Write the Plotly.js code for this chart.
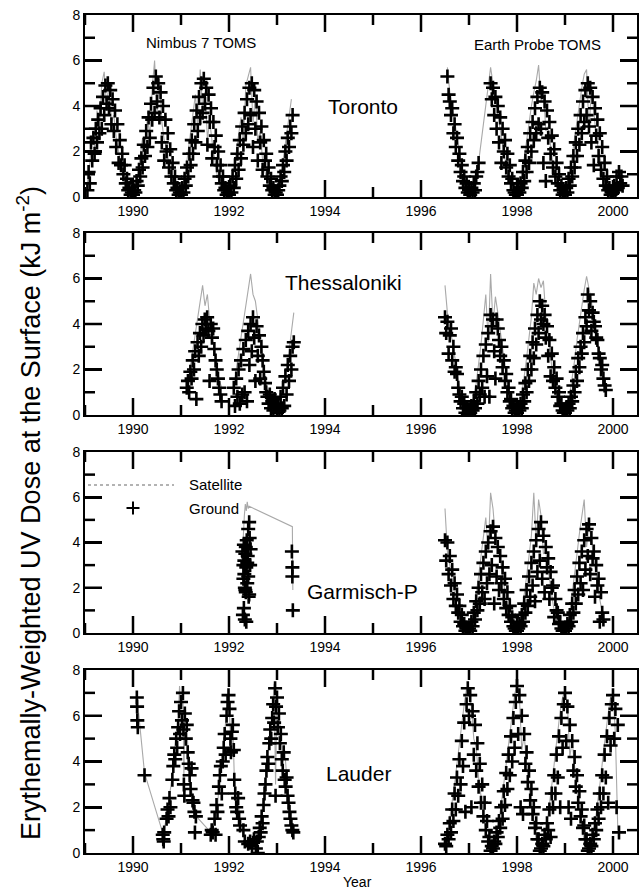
<!DOCTYPE html>
<html><head><meta charset="utf-8">
<script src="https://cdn.plot.ly/plotly-3.0.1.min.js"></script>
<style>html,body{margin:0;padding:0;background:#fff;}#chart{width:644px;height:892px;}</style>
</head><body><div id="chart"></div>
<script>
// ---------------- DATA (decimal years, kJ m-2) ----------------
// Toronto — ground (step 0.025 yr) and satellite (step 0.05 yr)
const torontoGroundA_start = 1989.05;
const torontoGroundA = [0.3,1.1,0.6,2.4,1.6,2.6,1.9,3.0,2.4,3.4,2.8,3.9,3.0,4.4,3.6,4.9,4.1,5.0,3.9,4.7,3.2,4.3,2.9,3.8,2.2,3.2,1.5,2.5,1.4,1.9,1.0,1.4,0.6,0.8,0.3,0.4,0.1,0.2,
 0.1,0.3,0.2,0.7,0.5,1.2,0.9,1.7,1.3,2.3,1.8,2.9,2.2,3.5,2.6,4.1,3.4,4.8,3.7,5.3,4.2,5.0,3.5,4.6,2.4,4.0,1.6,3.4,2.0,2.8,1.3,2.1,0.9,1.5,0.6,0.9,0.3,0.4,0.1,0.2,
 0.1,0.4,0.2,0.8,0.5,1.3,0.9,1.9,1.4,2.5,1.9,3.2,2.4,3.8,2.9,4.4,3.5,5.0,3.7,5.2,4.1,4.8,2.3,4.5,3.3,3.9,1.7,3.3,2.2,2.7,1.4,2.0,0.9,1.4,0.6,0.9,0.3,0.4,0.1,0.2,
 0.1,0.5,0.2,0.9,0.4,1.4,0.8,1.9,1.2,2.5,1.7,3.1,2.3,3.7,2.8,4.3,3.2,4.8,3.6,5.0,2.2,4.7,3.0,4.2,1.6,3.7,2.4,3.1,1.2,2.5,1.6,1.9,0.9,1.3,0.5,0.8,0.3,0.4,0.1,0.2,
 0.1,0.3,0.5,0.9,0.7,1.4,1.1,2.0,1.6,2.6,2.2,3.1,2.8,3.6];
const torontoGroundB1_start = 1996.55;
const torontoGroundB1 = [5.3,4.5,4.2,3.6,3.9,2.8,3.2,2.2,2.6,1.6,1.9,1.1,1.4,0.7,0.9,0.4,0.6,0.2,0.3,0.1,0.4,0.2,0.6,0.3,0.9,1.1,1.5];
const torontoGroundB2_start = 1997.45;
const torontoGroundB2 = [5.0,4.3,4.8,3.6,4.4,3.0,4.0,2.4,3.5,1.5,3.0,2.0,2.5,1.3,1.9,0.9,1.4,0.6,0.8,0.3,0.2,0.1,
 0.1,0.3,0.2,0.6,0.4,1.1,0.7,1.6,1.1,2.2,1.5,2.8,2.0,3.3,2.5,3.9,2.8,4.4,3.2,4.8,3.0,4.6,1.5,4.2,0.7,3.8,2.6,3.3,1.9,2.7,1.3,2.1,0.9,1.5,0.6,1.0,0.3,0.5,0.1,0.2,
 0.1,0.4,0.2,0.8,0.5,1.3,0.9,1.8,1.3,2.4,1.8,3.0,2.3,3.6,2.8,4.2,3.3,4.7,3.6,5.0,3.1,4.8,2.4,4.4,1.4,3.9,2.7,3.4,1.8,2.8,1.2,2.2,0.8,1.5,0.5,0.9,0.3,0.4,0.1,0.2,
 0.2,0.5,0.3,0.9,0.4,1.1,0.6,0.9,0.5];
const torontoSatA_start = 1989.05;
const torontoSatA = [0.6,1.5,2.7,2.2,3.8,3.1,5.0,5.5,4.0,5.0,3.3,3.6,2.6,2.0,1.3,0.8,0.4,0.2,0.1,
 0.2,0.5,1.0,1.8,2.6,2.3,3.5,2.7,4.8,6.0,3.6,5.2,3.3,2.5,2.2,1.4,0.9,0.5,0.2,0.1,
 0.2,0.6,1.2,2.0,2.8,3.6,4.5,2.9,5.6,3.9,4.6,2.6,3.3,2.4,1.6,1.0,0.6,0.3,0.2,0.1,
 0.2,0.6,1.2,1.9,2.7,3.5,2.4,4.9,5.3,5.7,3.2,4.5,2.5,2.9,1.6,1.1,0.6,0.3,0.2,0.1,
 0.2,0.6,1.2,2.0,2.9,3.5,4.3];
const torontoSatB1_start = 1996.55;
const torontoSatB1 = [5.7,4.6,4.0,3.4,2.6,2.0,1.3,0.8,0.4,0.2,0.1,0.3,0.7,1.5];
const torontoSatB2_start = 1997.45;
const torontoSatB2 = [5.7,5.0,4.5,3.6,3.0,2.4,1.7,1.0,0.6,0.3,0.1,
 0.2,0.5,1.0,1.7,2.5,3.2,4.0,4.6,5.1,5.8,4.2,4.8,2.9,3.1,2.2,1.4,0.9,0.5,0.2,0.1,
 0.2,0.5,1.1,1.8,2.6,3.4,4.1,4.8,5.4,5.6,2.9,4.7,3.8,2.6,2.1,1.4,0.9,0.5,0.2,0.1,
 0.3,0.6,0.9,1.2,0.6];

// Thessaloniki
const thessGroundA_start = 1991.12;
const thessGroundA = [1.2,1.5,1.0,1.9,1.6,2.4,2.0,2.8,0.7,3.2,2.6,3.6,3.0,4.0,3.5,4.2,3.8,4.3,3.7,1.5,4.0,3.4,3.8,2.9,2.4,2.0,1.6,1.2,0.9,0.6];
const thessGroundB_start = 1992.1;
const thessGroundB = [1.2,0.4,1.6,0.8,2.0,0.5,2.4,0.9,2.9,1.0,3.3,0.6,3.7,2.2,4.0,2.8,4.3,3.4,1.5,3.9,2.6,3.5,1.6,3.0,2.4,1.9,1.4,1.0,0.8,0.5,0.9,0.3,0.6,0.2,0.7,0.4,0.1,0.5,0.2,0.8,0.3,1.2,0.4,1.7,0.9,2.2,1.5,2.6,2.0,3.0,3.2];
const thessGroundC_start = 1996.5;
const thessGroundC = [4.3,3.6,4.1,2.7,3.5,3.8,2.4,3.0,1.9,2.1,1.8,1.2,0.9,0.6,0.8,0.3,0.5,0.1,0.3,0.0,
 0.2,0.1,0.4,0.2,0.6,0.3,1.0,0.5,1.5,0.9,2.0,1.2,2.6,0.8,3.1,1.7,3.6,0.8,4.4,3.9,4.2,2.8,1.6,4.2,3.8,3.3,2.6,3.0,2.1,2.4,1.5,1.8,1.0,1.2,0.6,0.7,0.3,0.4,0.1,0.2,
 0.1,0.3,0.2,0.5,0.3,0.9,0.6,1.4,1.0,2.0,1.5,2.6,2.0,3.2,2.5,3.8,3.1,4.4,3.6,5.0,4.2,4.8,4.0,4.4,3.4,3.9,2.6,3.3,1.7,2.7,1.5,2.1,1.2,1.6,0.8,1.0,0.4,0.5,0.2,0.1,
 0.1,0.3,0.2,0.5,0.3,0.8,0.6,1.3,1.0,1.9,1.5,2.5,2.1,3.0,2.7,3.6,3.2,4.3,3.9,5.3,4.6,5.0,3.7,4.5,4.1,3.9,3.4,3.3,2.7,2.5,2.0,2.2,1.6,1.3,1.1];
const thessSatA_start = 1991.15;
const thessSatA = [1.5,2.2,2.9,3.6,4.3,4.9,5.7,4.8,5.3,4.1,3.4,2.7,2.0,1.5,1.2];
const thessSatB_start = 1992.1;
const thessSatB = [1.2,2.0,2.7,3.4,4.2,4.9,5.4,6.2,5.3,5.0,4.2,3.4,2.6,1.7,1.0,0.6,0.4,0.3,0.2,0.4,0.8,1.4,2.0,2.8,3.6,4.5];
const thessSatC_start = 1996.5;
const thessSatC = [5.7,4.5,3.8,3.3,2.6,1.9,1.3,0.8,0.4,0.2,
 0.1,0.4,0.8,1.4,2.2,3.1,4.2,5.3,3.2,6.2,4.0,5.2,4.5,3.7,2.8,2.0,1.2,0.6,0.3,0.1,
 0.1,0.4,0.9,1.6,2.5,3.4,4.3,5.8,5.3,6.0,5.6,5.9,4.4,3.4,2.5,1.7,1.0,0.5,0.2,0.1,
 0.1,0.4,0.9,1.6,2.4,3.3,4.1,4.8,5.5,6.1,5.6,5.0,4.2,3.5,2.8,2.2,1.7,1.3];

// Garmisch-Partenkirchen
const garmNimbusGroundYears = [1992.28,1992.29,1992.30,1992.30,1992.31,1992.31,1992.32,1992.32,1992.33,1992.33,1992.34,1992.34,1992.35,1992.35,1992.36,1992.36,1992.37,1992.38,1992.38,1992.39,1992.40,1992.40,1992.41,1992.42,1992.42,1992.43,1992.44,1992.45,1993.31,1993.32,1993.32,1993.33];
const garmNimbusGroundValues = [3.6,0.8,2.4,3.0,3.9,1.1,3.2,2.6,2.0,0.6,3.5,1.9,1.8,3.8,2.9,0.5,4.1,2.2,3.1,3.4,4.6,2.5,1.6,4.9,1.7,4.2,3.0,3.7,3.6,2.9,2.5,1.0];
const garmNimbusSatYears = [1992.28,1992.30,1992.32,1992.34,1992.36,1992.38,1992.40,1992.42,1993.32,1993.33];
const garmNimbusSatValues = [3.5,4.6,5.2,5.7,5.4,5.8,5.5,5.6,4.7,1.9];
const garmGroundEP_start = 1996.5;
const garmGroundEP = [4.1,3.2,4.0,2.6,3.4,2.1,2.8,1.5,2.2,1.2,1.7,0.9,1.2,0.5,0.8,0.3,0.4,0.1,0.2,0.1,
 0.2,0.1,0.5,0.3,0.9,0.6,1.4,1.0,2.0,1.3,2.6,1.8,3.1,1.5,3.6,2.2,4.0,2.6,4.5,3.0,4.7,1.3,4.2,2.5,3.8,1.9,3.4,2.2,2.9,1.5,2.4,1.1,1.8,0.8,1.2,0.5,0.7,0.3,0.2,0.1,
 0.1,0.2,0.4,0.3,0.8,0.5,1.3,0.9,1.9,1.2,2.5,1.6,3.1,2.1,3.6,1.4,4.1,2.7,4.6,3.2,4.9,2.4,4.3,1.8,3.8,2.9,3.3,1.5,2.7,2.0,2.1,0.7,1.5,1.0,0.9,0.4,0.5,0.2,0.1,0.1,
 0.1,0.2,0.4,0.3,0.8,0.5,1.3,0.9,1.9,1.3,2.5,1.7,3.1,2.2,3.6,1.9,4.1,2.8,4.6,3.4,4.8,2.6,4.2,3.3,3.6,1.6,3.0,2.1,2.4,0.5,1.8,0.9,0.6];
const garmSatEP_start = 1996.5;
const garmSatEP = [5.5,3.6,3.0,2.3,1.7,1.1,0.7,0.4,0.2,0.1,
 0.2,0.5,1.0,1.7,2.5,3.4,4.3,5.1,3.6,6.2,5.5,4.2,4.0,3.2,2.5,1.8,1.1,0.6,0.3,0.1,
 0.1,0.4,0.9,1.6,2.5,3.4,4.3,6.2,4.0,5.9,5.2,3.5,3.6,2.8,2.0,1.3,0.7,0.3,0.2,0.1,
 0.1,0.4,0.9,1.7,2.6,3.5,4.4,5.2,5.9,3.8,4.8,4.1,3.3,2.5,1.8,1.2,0.7];

// Lauder
const lauderNimbusGroundYears = [1990.08,1990.085,1990.09,1990.10,1990.24,
 1990.62,1990.63,1990.64,1990.65,
 1990.70,1990.72,1990.74,1990.76,1990.78,
 1990.82,1990.84,1990.86,1990.88,1990.90,1990.92,1990.94,1990.96,1990.98,1991.00,1991.02,1991.04,1991.05,1991.06,1991.07,1991.08,1991.10,1991.12,1991.14,1991.16,1991.18,1991.20,1991.22,1991.24,1991.26,1991.28,1991.29,1991.31,
 1991.62,1991.64,1991.66,1991.70,1991.72,1991.74,1991.76,1991.79,1991.81,1991.83,1991.85,1991.87,1991.89,1991.91,1991.93,1991.95,1991.97,1991.99,1992.01,1992.03,1992.04,1992.06,1992.08,1992.10,1992.11,1992.13,1992.15,1992.17,1992.19,1992.21,1992.23,1992.30,1992.33,1992.40,
 1992.44,1992.48,1992.52,1992.56,1992.58,1992.60,
 1992.62,1992.64,1992.66,1992.68,1992.70,1992.72,1992.74,1992.76,1992.78,1992.80,1992.82,1992.84,1992.86,1992.88,1992.90,1992.92,1992.94,1992.96,1992.97,1992.98,1993.00,1993.02,1993.04,1993.06,1993.08,1993.10,1993.12,1993.14,1993.16,1993.18,1993.20,1993.22,1993.24,1993.26,1993.28,1993.30,1993.32,1993.34];
const lauderNimbusGroundValues = [6.8,6.4,5.8,5.5,3.4,
 0.8,0.6,0.5,0.9,
 1.5,1.9,1.6,2.4,2.0,
 3.2,3.8,4.3,4.1,5.0,4.6,5.5,6.2,5.2,6.6,5.8,7.0,5.4,3.0,2.5,6.1,5.0,5.6,4.4,3.9,3.4,2.8,3.7,2.3,2.2,1.8,0.9,1.6,
 0.8,1.0,0.9,1.5,0.8,2.1,1.8,2.9,3.4,3.8,2.6,4.0,4.6,5.2,4.3,6.0,6.6,6.9,6.3,5.0,4.4,5.3,5.6,4.5,3.2,2.6,2.0,1.8,2.4,1.5,1.2,1.0,0.5,0.4,
 0.5,0.3,0.6,0.2,0.5,0.0,
 0.7,1.1,0.9,1.6,1.3,2.1,2.6,3.0,3.6,4.2,3.9,4.8,5.4,5.0,5.9,6.5,5.7,7.2,2.5,6.4,6.8,5.5,6.1,4.8,5.2,4.1,3.6,4.4,3.2,2.9,3.3,2.5,2.2,1.8,1.5,1.2,1.0,0.9];
const lauderNimbusSatYears = [1990.08,1990.24,1990.63,1990.70,1990.76,1990.82,1990.86,1990.90,1990.94,1990.97,
 1991.00,1991.04,1991.06,1991.08,1991.12,1991.16,1991.20,1991.24,1991.28,1991.32,1991.62,1991.70,1991.76,1991.81,1991.87,1991.91,1991.95,1991.99,
 1992.03,1992.05,1992.08,1992.11,1992.15,1992.19,1992.23,1992.33,1992.45,1992.55,1992.62,1992.68,1992.74,1992.80,1992.86,1992.90,1992.94,1992.97,
 1993.00,1993.04,1993.08,1993.12,1993.16,1993.20,1993.24,1993.28,1993.34];
const lauderNimbusSatValues = [6.9,3.5,0.8,1.6,2.5,3.4,4.4,5.1,5.8,7.3,
 6.2,7.0,3.3,6.2,5.5,4.0,3.0,2.5,2.0,1.6,0.9,1.6,2.0,3.5,4.1,5.3,6.1,7.0,
 5.2,4.2,5.7,3.3,2.1,2.5,1.3,0.6,0.4,0.3,0.8,1.7,2.7,4.3,5.5,6.0,7.4,3.0,
 6.9,6.2,5.3,3.8,4.5,3.4,2.3,1.6,1.0];
const lauderGroundEP_start = 1996.5;
const lauderGroundEP = [0.4,0.3,0.8,0.6,1.3,0.9,1.9,1.4,2.6,1.9,3.3,2.5,4.1,3.0,4.9,3.8,5.7,1.8,6.5,7.2,
 6.0,6.9,2.0,6.2,4.3,5.6,3.6,4.8,2.9,3.9,2.2,3.0,1.6,2.2,1.0,1.4,0.5,0.7,0.1,0.3,0.2,0.5,0.4,0.9,0.7,1.4,1.1,2.0,1.5,2.7,2.1,3.5,2.8,4.3,3.4,5.1,4.0,5.9,4.6,6.6,
 7.3,5.2,6.9,2.0,6.0,1.7,5.2,3.9,4.4,3.1,3.6,2.3,2.8,1.7,2.0,1.1,1.3,0.6,0.6,0.1,0.2,0.4,0.3,0.8,0.6,1.3,1.0,1.9,0.7,2.6,2.0,3.4,2.6,4.3,3.3,5.1,2.0,5.9,4.6,6.5,
 7.0,4.9,6.4,2.0,5.6,1.5,4.9,3.6,4.2,2.9,3.4,2.2,2.7,1.6,1.9,1.1,1.2,0.6,0.6,0.1,0.2,0.4,0.3,0.8,0.6,1.3,1.0,1.9,1.5,2.6,2.0,3.4,2.6,4.3,3.3,5.1,2.2,5.9,4.7,6.5,
 6.9,5.0,6.3,2.0,5.6,0.9];
const lauderSatEP_start = 1996.5;
const lauderSatEP = [0.5,0.9,1.5,2.2,3.0,3.9,4.8,5.7,6.5,7.2,
 7.0,6.4,5.0,4.6,3.3,2.5,1.7,1.0,0.5,0.2,0.3,0.6,1.2,1.8,2.6,3.5,4.4,5.3,6.2,6.9,
 7.4,6.8,4.5,5.2,3.8,2.8,2.0,1.2,0.6,0.2,0.2,0.5,1.0,1.7,2.5,3.4,4.4,5.4,6.2,6.8,
 7.1,6.5,4.2,4.9,3.6,2.7,1.9,1.1,0.5,0.2,0.2,0.5,1.0,1.7,2.5,3.4,4.4,5.4,6.1,6.8,
 7.0,5.2,1.0];

const GROUND_STEP = 0.025, SAT_STEP = 0.05;
const stationNames = ['Toronto', 'Thessaloniki', 'Garmisch-P', 'Lauder'];

// ---------------- BUILD ----------------
function seq(start, step, vals) { return vals.map((_, i) => Math.round((start + i * step) * 10000) / 10000); }
function seg(start, step, vals) { return {x: seq(start, step, vals), y: vals.slice()}; }
function raw(xs, ys) { return {x: xs.slice(), y: ys.slice()}; }
function joinSegs(list) {
  const out = {x: [], y: []};
  list.forEach(s => {
    if (s === 'gap') { out.x.push(null); out.y.push(null); }
    else { out.x.push(...s.x); out.y.push(...s.y); }
  });
  return out;
}

const sat = [
  joinSegs([seg(torontoSatA_start, SAT_STEP, torontoSatA), 'gap', seg(torontoSatB1_start, SAT_STEP, torontoSatB1), seg(torontoSatB2_start, SAT_STEP, torontoSatB2)]),
  joinSegs([seg(thessSatA_start, SAT_STEP, thessSatA), seg(thessSatB_start, SAT_STEP, thessSatB), 'gap', seg(thessSatC_start, SAT_STEP, thessSatC)]),
  joinSegs([raw(garmNimbusSatYears, garmNimbusSatValues), 'gap', seg(garmSatEP_start, SAT_STEP, garmSatEP)]),
  joinSegs([raw(lauderNimbusSatYears, lauderNimbusSatValues), 'gap', seg(lauderSatEP_start, SAT_STEP, lauderSatEP)])
];
const ground = [
  joinSegs([seg(torontoGroundA_start, GROUND_STEP, torontoGroundA), seg(torontoGroundB1_start, GROUND_STEP, torontoGroundB1), seg(torontoGroundB2_start, GROUND_STEP, torontoGroundB2)]),
  joinSegs([seg(thessGroundA_start, GROUND_STEP, thessGroundA), seg(thessGroundB_start, GROUND_STEP, thessGroundB), seg(thessGroundC_start, GROUND_STEP, thessGroundC)]),
  joinSegs([raw(garmNimbusGroundYears, garmNimbusGroundValues), seg(garmGroundEP_start, GROUND_STEP, garmGroundEP)]),
  joinSegs([raw(lauderNimbusGroundYears, lauderNimbusGroundValues), seg(lauderGroundEP_start, GROUND_STEP, lauderGroundEP)])
];

const W = 644, H = 892;
const px = v => v / W, py = v => 1 - v / H;
const FONT = 'Liberation Sans, Arial, Helvetica, sans-serif';
const PLOT_L = 85, PLOT_R = 637;
const panelTopBottom = [[15, 197], [233, 415], [452, 633], [670, 853]];
const XR = [1989, 2000.5], YR = [0, 8];
const MAJOR_LEN = 17, MINOR_LEN = 10, TICK_W = 2.5;

const traces = [];
const layout = {
  width: W, height: H, margin: {l: 0, r: 0, t: 0, b: 0},
  paper_bgcolor: '#fff', plot_bgcolor: '#fff', showlegend: false,
  font: {family: FONT, color: '#000'},
  annotations: [], shapes: []
};

const base = {
  ticks: 'inside', ticklen: MAJOR_LEN, tickwidth: TICK_W, tickcolor: '#000',
  showgrid: false, zeroline: false, fixedrange: true,
  showline: true, linewidth: 2, linecolor: '#000', mirror: 'allticks',
  tickfont: {family: FONT, size: 14, color: '#000'}
};
function tickShape(x0, y0, x1, y1) {
  return {type: 'line', xref: 'paper', yref: 'paper', layer: 'above',
    x0: px(x0), y0: py(y0), x1: px(x1), y1: py(y1), line: {color: '#000', width: TICK_W}};
}

for (let p = 0; p < 4; p++) {
  const sfx = p === 0 ? '' : String(p + 1);
  traces.push({
    type: 'scatter', mode: 'lines', x: sat[p].x, y: sat[p].y,
    xaxis: 'x' + sfx, yaxis: 'y' + sfx, connectgaps: false,
    line: {color: '#a9a9a9', width: 1.1}, hoverinfo: 'skip'
  });
  traces.push({
    type: 'scatter', mode: 'markers', x: ground[p].x, y: ground[p].y,
    xaxis: 'x' + sfx, yaxis: 'y' + sfx,
    marker: {symbol: 'cross-thin', size: 10, color: '#000', line: {color: '#000', width: 2.6}},
    hoverinfo: 'skip'
  });

  const [top, bot] = panelTopBottom[p];
  layout['xaxis' + sfx] = Object.assign({}, base, {
    domain: [px(PLOT_L), px(PLOT_R)], anchor: 'y' + sfx, range: XR, side: 'bottom',
    tickmode: 'linear', tick0: 1990, dtick: 2, tickformat: 'd'
  });
  layout['yaxis' + sfx] = Object.assign({}, base, {
    domain: [py(bot), py(top)], anchor: 'x' + sfx, range: YR, side: 'left',
    tickmode: 'linear', tick0: 0, dtick: 2
  });

  // inside tick marks on all four sides: long every 2, short every 1 (same linear mapping as the axes)
  const xMap = v => PLOT_L + (v - XR[0]) / (XR[1] - XR[0]) * (PLOT_R - PLOT_L);
  const yMap = v => bot - (v - YR[0]) / (YR[1] - YR[0]) * (bot - top);
  for (let t = Math.ceil(XR[0]); t <= Math.floor(XR[1]); t++) {
    const len = t % 2 === 0 ? MAJOR_LEN : MINOR_LEN, xp = xMap(t);
    layout.shapes.push(tickShape(xp, bot, xp, bot - len));
    layout.shapes.push(tickShape(xp, top, xp, top + len));
  }
  for (let v = YR[0] + 1; v < YR[1]; v++) {
    const len = v % 2 === 0 ? MAJOR_LEN : MINOR_LEN, yp = yMap(v);
    layout.shapes.push(tickShape(PLOT_L, yp, PLOT_L + len, yp));
    layout.shapes.push(tickShape(PLOT_R, yp, PLOT_R - len, yp));
  }
}

function ann(text, x, y, size, extra) {
  layout.annotations.push(Object.assign({text, x: px(x), y: py(y), xref: 'paper', yref: 'paper',
    showarrow: false, xanchor: 'center', yanchor: 'middle', font: {family: FONT, size, color: '#000'}}, extra || {}));
}
const stationPos = [[363, 107], [343, 282], [362, 591], [358, 773]];
stationNames.forEach((n, i) => ann(n, stationPos[i][0], stationPos[i][1], 21));
ann('Nimbus 7 TOMS', 201, 43, 15);
ann('Earth Probe TOMS', 537, 45, 15);
ann('Satellite', 187, 485, 15, {xanchor: 'left'});
ann('Ground', 187, 508, 15, {xanchor: 'left'});
ann('Erythemally-Weighted UV Dose at the Surface (kJ m<sup>-2</sup>)', 29, 513, 27, {textangle: -90});
ann('Year', 357, 882, 14);

layout.shapes.push({type: 'line', xref: 'paper', yref: 'paper', x0: px(88), x1: px(174), y0: py(485), y1: py(485),
  line: {color: '#9a9a9a', width: 1.5, dash: 'dot'}});
layout.shapes.push({type: 'line', xref: 'paper', yref: 'paper', x0: px(126.5), x1: px(139.5), y0: py(508), y1: py(508), line: {color: '#000', width: 2}});
layout.shapes.push({type: 'line', xref: 'paper', yref: 'paper', x0: px(133), x1: px(133), y0: py(501.5), y1: py(514.5), line: {color: '#000', width: 2}});

Plotly.newPlot('chart', traces, layout, {displayModeBar: false, staticPlot: true});
</script>
</body></html>
